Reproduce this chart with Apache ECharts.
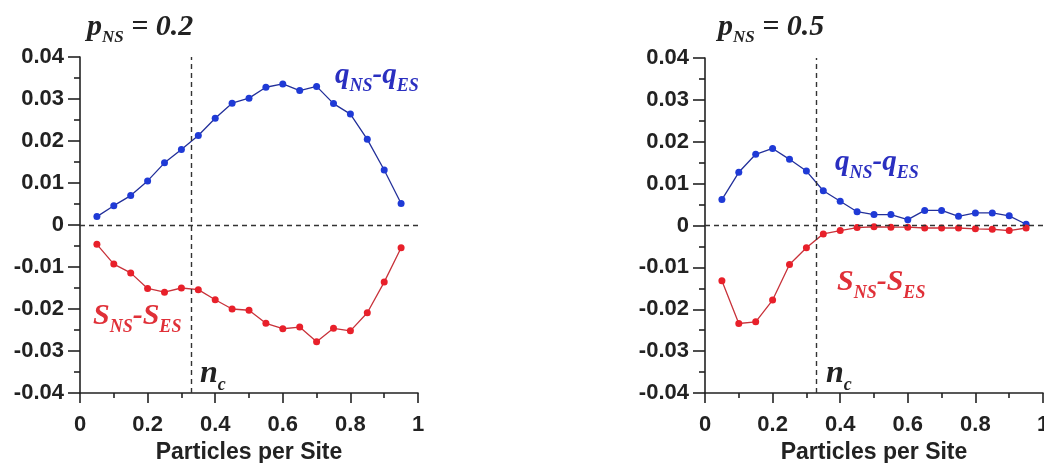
<!DOCTYPE html>
<html>
<head>
<meta charset="utf-8">
<script src="https://cdn.jsdelivr.net/npm/echarts@6/dist/echarts.min.js"></script>
<style>html,body{margin:0;padding:0;background:#fff}#c{width:1044px;height:463px}</style>
</head>
<body>
<div id="c"></div>
<script>
const xValues = [0.05,0.10,0.15,0.20,0.25,0.30,0.35,0.40,0.45,0.50,0.55,0.60,0.65,0.70,0.75,0.80,0.85,0.90,0.95];
const qLeft = [0.0020,0.0046,0.0070,0.0105,0.0148,0.0180,0.0213,0.0254,0.0290,0.0302,0.0328,0.0336,0.0320,0.0330,0.0289,0.0264,0.0204,0.0131,0.0051];
const sLeft = [-0.0046,-0.0093,-0.0114,-0.0151,-0.0160,-0.0150,-0.0154,-0.0178,-0.0200,-0.0203,-0.0234,-0.0247,-0.0243,-0.0278,-0.0246,-0.0252,-0.0209,-0.0136,-0.0054];
const qRight = [0.0062,0.0127,0.0170,0.0184,0.0158,0.0130,0.0083,0.0058,0.0033,0.0026,0.0026,0.0014,0.0036,0.0036,0.0022,0.0030,0.0030,0.0023,0.0003];
const sRight = [-0.0132,-0.0234,-0.0230,-0.0178,-0.0093,-0.0053,-0.0020,-0.0012,-0.0005,-0.0003,-0.0004,-0.0004,-0.0006,-0.0006,-0.0006,-0.0008,-0.0009,-0.0012,-0.0006];
const nCritical = 1/3;
const titles = ['0.2','0.5'];
const xName = 'Particles per Site';

const pair = (xs, ys) => xs.map((x,i)=>[x, ys[i]]);
const BLUE_LINE = '#23309a', BLUE_PT = '#1f3ad6';
const RED_LINE = '#c8323a', RED_PT = '#e8202a';
const sans = 'Liberation Sans';

function xAxis(g){
  return {
    type:'value', gridIndex:g, min:0, max:1, interval:0.2,
    name:xName, nameLocation:'middle', nameGap:41,
    nameTextStyle:{fontFamily:sans, fontWeight:'bold', fontSize:23, color:'#222'},
    axisLine:{onZero:false, lineStyle:{color:'#222', width:1.6}},
    axisTick:{show:true, inside:false, length:10, lineStyle:{color:'#222', width:1.6}},
    minorTick:{show:true, splitNumber:2, length:5, lineStyle:{color:'#222', width:1.6}},
    splitLine:{show:false},
    axisLabel:{margin:21, fontFamily:sans, fontWeight:'bold', fontSize:22, color:'#222',
      formatter:v=> (v===0||v===1)? String(v) : v.toFixed(1)}
  };
}
function yAxis(g){
  return {
    type:'value', gridIndex:g, min:-0.04, max:0.04, interval:0.01,
    axisLine:{onZero:false, lineStyle:{color:'#222', width:1.6}},
    axisTick:{show:true, inside:false, length:12, lineStyle:{color:'#222', width:1.6}},
    minorTick:{show:true, splitNumber:2, length:6, lineStyle:{color:'#222', width:1.6}},
    splitLine:{show:false},
    axisLabel:{margin:16, fontFamily:sans, fontWeight:'bold', fontSize:22, color:'#222',
      formatter:v=> Math.abs(v)<1e-9 ? '0' : v.toFixed(2)}
  };
}
function lineSeries(g, data, lc, pc){
  return {type:'line', xAxisIndex:g, yAxisIndex:g, data:data, symbol:'circle', symbolSize:7,
    lineStyle:{color:lc, width:1.3}, itemStyle:{color:pc}, animation:false, z:3};
}
function refSeries(g){
  return {type:'line', xAxisIndex:g, yAxisIndex:g, data:[], animation:false,
    markLine:{silent:true, symbol:['none','none'], label:{show:false},
      lineStyle:{color:'#333', type:[5,4], width:1.4},
      data:[{yAxis:0},{xAxis:nCritical}]}};
}

const serif = 'Liberation Serif';
const rich = (color, size, subSize) => ({
  m:{fontFamily:serif, fontStyle:'italic', fontWeight:'bold', fontSize:size, color:color, lineHeight:size, verticalAlign:'top'},
  s:{fontFamily:serif, fontStyle:'italic', fontWeight:'bold', fontSize:subSize, color:color, lineHeight:subSize, verticalAlign:'top', padding:[Math.round(size*0.55),0,0,0]}
});
function label(left, top, text, color, size, sub){
  return {left:left, top:top, text:text, textStyle:{rich:rich(color,size,sub)}};
}

const option = {
  backgroundColor:'#fff',
  animation:false,
  grid:[
    {left:80, top:57, width:338, height:336, outerBoundsMode:'none', containLabel:false},
    {left:705, top:58, width:338, height:335, outerBoundsMode:'none', containLabel:false}
  ],
  xAxis:[xAxis(0), xAxis(1)],
  yAxis:[yAxis(0), yAxis(1)],
  title:[
    label(82, 7, '{m|p}{s|NS}{m| = '+titles[0]+'}', '#222', 30, 17),
    label(713, 7, '{m|p}{s|NS}{m| = '+titles[1]+'}', '#222', 30, 17),
    label(330, 56, '{m|q}{s|NS}{m|-q}{s|ES}', '#2a2fc0', 29, 18),
    label(830, 143, '{m|q}{s|NS}{m|-q}{s|ES}', '#2a2fc0', 29, 18),
    label(88, 296, '{m|S}{s|NS}{m|-S}{s|ES}', '#e03038', 30, 18),
    label(832, 262, '{m|S}{s|NS}{m|-S}{s|ES}', '#e03038', 30, 18),
    label(195, 353, '{m|n}{s|c}', '#222', 32, 18),
    label(821, 353, '{m|n}{s|c}', '#222', 32, 18)
  ],
  series:[
    refSeries(0), refSeries(1),
    lineSeries(0, pair(xValues,qLeft), BLUE_LINE, BLUE_PT),
    lineSeries(0, pair(xValues,sLeft), RED_LINE, RED_PT),
    lineSeries(1, pair(xValues,qRight), BLUE_LINE, BLUE_PT),
    lineSeries(1, pair(xValues,sRight), RED_LINE, RED_PT)
  ]
};
const chart = echarts.init(document.getElementById('c'), null, {renderer:'canvas'});
chart.setOption(option);
</script>
</body>
</html>
